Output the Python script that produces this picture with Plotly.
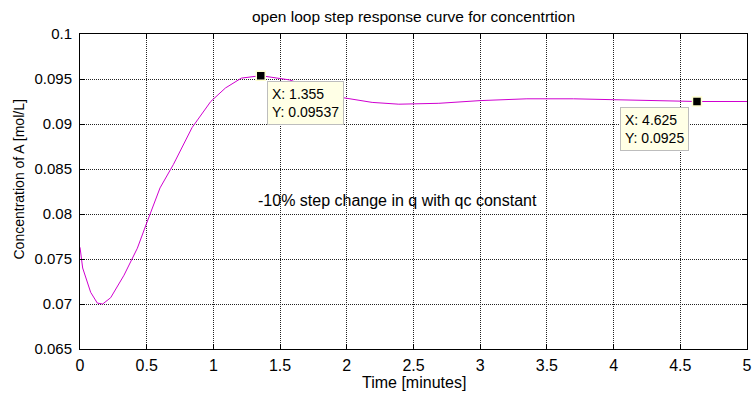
import plotly.graph_objects as go

# Data
time_min = [0, 0.02, 0.08, 0.13, 0.17, 0.23, 0.33, 0.43, 0.5, 0.6, 0.7, 0.84, 0.98,
            1.09, 1.21, 1.355, 1.57, 1.75, 1.94, 2.19, 2.39, 2.69, 3.0, 3.35, 3.7,
            4.0, 4.3, 4.625, 5.0]
conc_A = [0.0763, 0.0740, 0.0713, 0.0701, 0.0700, 0.0707, 0.0732, 0.0762, 0.0790,
          0.0829, 0.0855, 0.0896, 0.0925, 0.0940, 0.0951, 0.09537, 0.0949, 0.0940,
          0.0930, 0.0924, 0.0922, 0.0923, 0.0926, 0.0928, 0.0928, 0.0927, 0.0926,
          0.0925, 0.0925]

tip_x = [1.355, 4.625]
tip_y = [0.09537, 0.0925]
tip_text = ["X: 1.355<br>Y: 0.09537", "X: 4.625<br>Y: 0.0925"]

x_ticks = [0, 0.5, 1, 1.5, 2, 2.5, 3, 3.5, 4, 4.5, 5]
x_ticktext = ["0", "0.5", "1", "1.5", "2", "2.5", "3", "3.5", "4", "4.5", "5"]
y_ticks = [0.065, 0.07, 0.075, 0.08, 0.085, 0.09, 0.095, 0.1]
y_ticktext = ["0.065", "0.07", "0.075", "0.08", "0.085", "0.09", "0.095", "0.1"]

font_family = "Liberation Sans, Arial, sans-serif"

fig = go.Figure()
fig.add_trace(go.Scatter(x=time_min, y=conc_A, mode="lines",
                         line=dict(color="#D000D0", width=1), showlegend=False,
                         hoverinfo="skip"))
fig.add_trace(go.Scatter(x=tip_x, y=tip_y, mode="markers",
                         marker=dict(symbol="square", size=9, color="black",
                                     line=dict(color="#FFFFD0", width=1.5)),
                         showlegend=False, hoverinfo="skip"))

annos = []
for i, (tx, ty, tt) in enumerate(zip(tip_x, tip_y, tip_text)):
    left = (i == 0)
    annos.append(dict(x=tx, y=ty, xref="x", yref="y", text=tt, showarrow=False,
                      xanchor="left" if left else "right", yanchor="top",
                      xshift=6 if left else -8, yshift=-5, align="left",
                      bgcolor="#FFFFE6", bordercolor="#BDBDBD", borderwidth=1,
                      borderpad=4, font=dict(family=font_family, size=14, color="black")))
annos.append(dict(x=2.379, y=0.08153, xref="x", yref="y",
                  text="-10% step change in q with qc constant", showarrow=False,
                  xanchor="center", yanchor="middle",
                  font=dict(family=font_family, size=16, color="black")))
# axis titles
annos.append(dict(x=0, y=0.5, xref="paper", yref="paper", text="Concentration of A [mol/L]",
                  showarrow=False, textangle=-90, xanchor="center", yanchor="middle",
                  xshift=-62, yshift=12, font=dict(family=font_family, size=14, color="black")))
annos.append(dict(x=0.5, y=0, xref="paper", yref="paper", text="Time [minutes]",
                  showarrow=False, xanchor="center", yanchor="middle",
                  yshift=-33, font=dict(family=font_family, size=16, color="black")))

axis_common = dict(showline=True, linecolor="black", linewidth=1, mirror="allticks",
                   ticks="inside", ticklen=5, tickcolor="black", automargin=False,
                   showgrid=True, gridcolor="#222222", gridwidth=1, griddash="1px,1px",
                   zeroline=False)

fig.update_layout(
    width=752, height=401,
    margin=dict(l=80, r=5, t=34, b=52),
    paper_bgcolor="white", plot_bgcolor="white",
    title=dict(text="open loop step response curve for concentrtion",
               xref="paper", x=0.5, xanchor="center", y=1 - 17 / 401, yanchor="middle",
               font=dict(family=font_family, size=15.5, color="black")),
    xaxis=dict(range=[0, 5], tickvals=x_ticks, ticktext=x_ticktext,
               tickfont=dict(family=font_family, size=16, color="black"),
               ticklabelstandoff=2, **axis_common),
    yaxis=dict(range=[0.065, 0.1], tickvals=y_ticks, ticktext=y_ticktext,
               tickfont=dict(family=font_family, size=15, color="black"),
               ticklabelstandoff=4, **axis_common),
    annotations=annos,
)

fig.write_html("out.html")
